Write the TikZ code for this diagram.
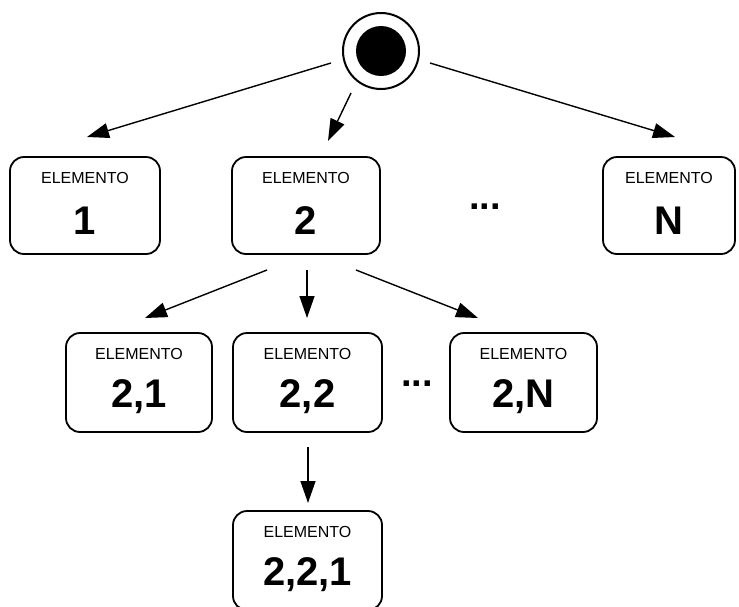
\documentclass[tikz,border=0pt]{standalone}
\usepackage{fontspec}
\setmainfont{Liberation Sans}
\usetikzlibrary{arrows.meta}
\begin{document}
\begin{tikzpicture}[x=1pt,y=-1pt,
  elbox/.style={draw=black, line width=1.8pt, rounded corners=14pt, fill=white},
  lbl/.style={inner sep=0pt, font=\fontsize{16}{16}\selectfont},
  num/.style={inner sep=0pt, font=\fontsize{40}{40}\selectfont\bfseries},
  dots/.style={inner sep=0pt, font=\fontsize{38}{38}\selectfont\bfseries},
  arr/.style={line width=1.4pt, -{Triangle[length=22pt,width=15pt]}}]
\useasboundingbox[fill=white] (0,0) rectangle (739,606);
% start state
\node[circle, draw, line width=2pt, minimum size=76pt, inner sep=0pt] (start) at (381,51) {};
\node[circle, fill=black, minimum size=50pt, inner sep=0pt] (startin) at (381,51) {};
% boxes (corners)
\newcommand{\elem}[6]{%
  \draw[elbox] (#2,#3) rectangle (#4,#5);
  \node[lbl] (#1l) at ({(#2+#4)/2},#3+21) {ELEMENTO};
  \node[num] (#1n) at ({(#2+#4)/2},#3+64) {#6};
  \node[inner sep=0pt, minimum width={#4-#2}, minimum height={#5-#3}] (#1) at ({(#2+#4)/2},{(#3+#5)/2}) {};
}
\elem{e1}{10}{157}{160}{254}{1}
\elem{e2}{232}{157}{380}{254}{2}
\elem{eN}{603}{157}{735}{254}{N}
\elem{e21}{66}{333}{212}{432}{2,1}
\elem{e22}{233}{333}{382}{432}{2,2}
\elem{e2N}{450}{333}{597}{432}{2,N}
\elem{e221}{233}{511}{382}{610}{2,2,1}
\node[dots] (d1) at (485,207) {...};
\node[dots] (d2) at (417,384) {...};
% connector end points
\coordinate (a1s) at (331,63);  \coordinate (a1t) at (87,137);
\coordinate (a2s) at (351,93);  \coordinate (a2t) at (328,141);
\coordinate (a3s) at (430,63);  \coordinate (a3t) at (675,137);
\coordinate (b1s) at (267,270); \coordinate (b1t) at (145,318);
\coordinate (b2s) at (307,270); \coordinate (b2t) at (307,318);
\coordinate (b3s) at (356,270); \coordinate (b3t) at (478,318);
\coordinate (c1s) at (308,447); \coordinate (c1t) at (308,503);
\draw[arr] (a1s) -- (a1t);
\draw[arr] (a2s) -- (a2t);
\draw[arr] (a3s) -- (a3t);
\draw[arr] (b1s) -- (b1t);
\draw[arr] (b2s) -- (b2t);
\draw[arr] (b3s) -- (b3t);
\draw[arr] (c1s) -- (c1t);
\end{tikzpicture}
\end{document}
